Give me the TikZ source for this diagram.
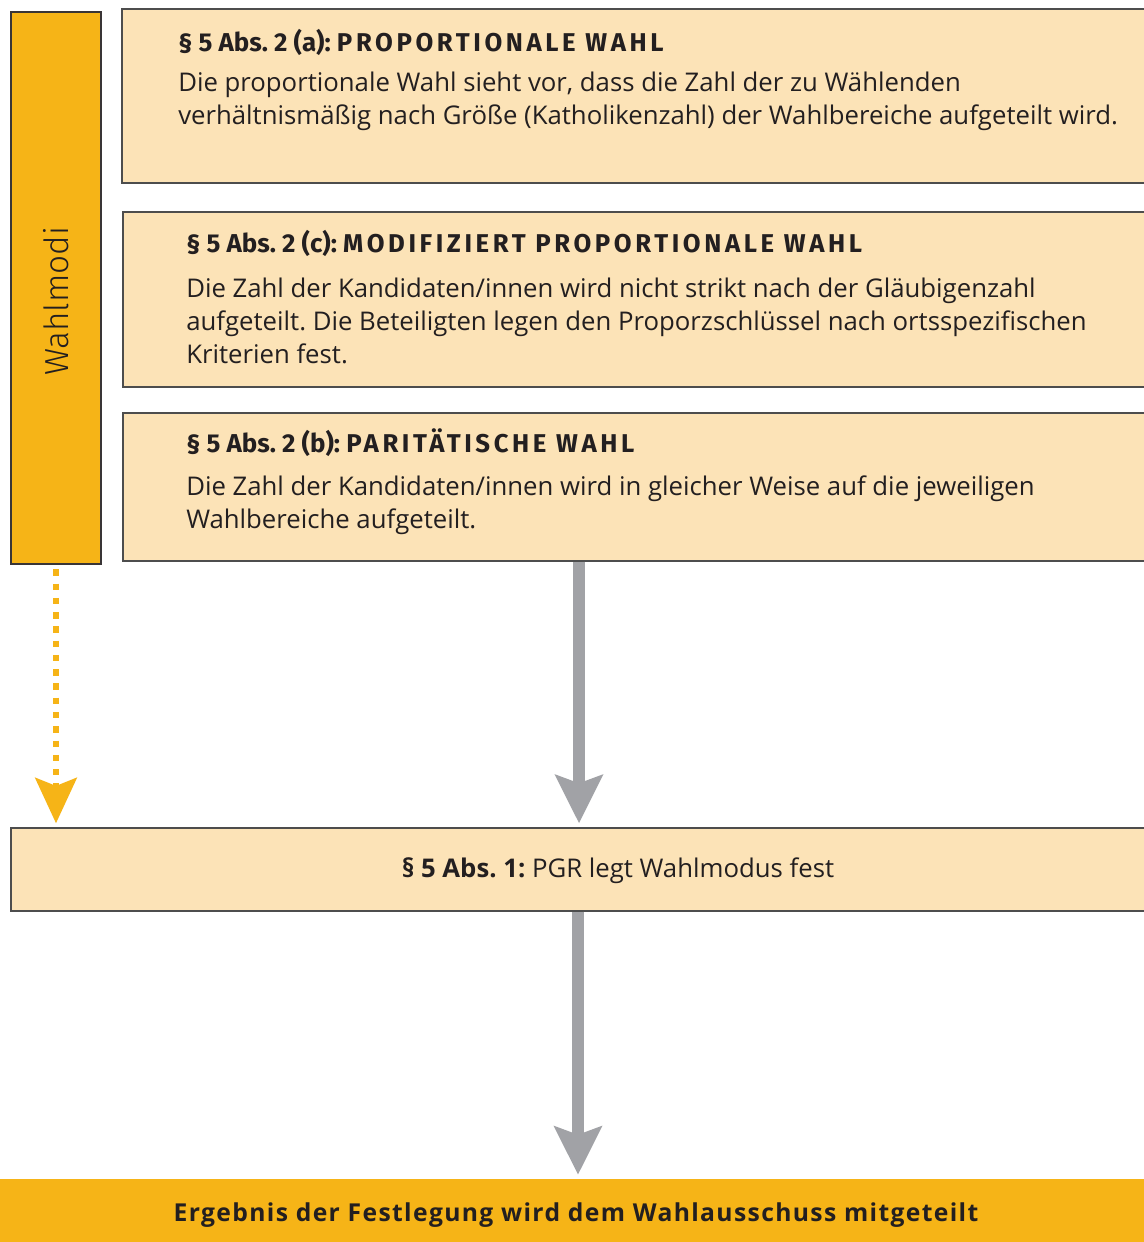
\documentclass[tikz,border=0pt]{standalone}
\usepackage{fontspec}
\setmainfont{Open Sans}
\newfontfamily\headfont{Fira Sans}
% heavy tracked face for the names of the election modes
\IfFontExistsTF{Fira Sans Black}
  {\newfontfamily\capsface{Fira Sans Black}[LetterSpace=14]\newcommand{\capsweight}{}}
  {\newfontfamily\capsface{Fira Sans}[LetterSpace=16, BoldFeatures={FakeBold=1.6}]\newcommand{\capsweight}{\bfseries}}
% light face for the side label
\IfFontExistsTF{Fira Sans Light}
  {\newfontfamily\sideface{Fira Sans Light}}
  {\newfontfamily\sideface{Fira Sans}}
% tracked face for the result bar
\IfFontExistsTF{Open Sans SemiBold}
  {\newfontfamily\spacedfont{Open Sans SemiBold}[LetterSpace=6]\newcommand{\spacedweight}{}}
  {\newfontfamily\spacedfont{Open Sans}[LetterSpace=5.5]\newcommand{\spacedweight}{\bfseries}}
\usetikzlibrary{arrows.meta,fit}

\definecolor{paleorange}{HTML}{FCE3B7}
\definecolor{amber}{HTML}{F6B417}
\definecolor{arrowgray}{HTML}{A1A2A6}
\definecolor{frame}{HTML}{4D4D4D}
\definecolor{ink}{HTML}{231F20}

\tikzset{
  panel/.style={draw=frame, line width=1.1pt, fill=paleorange, inner sep=0pt},
  sidebar/.style={draw=ink!90, line width=2pt, fill=amber, inner sep=0pt},
  resultbar/.style={fill=amber, inner sep=0pt},
  txt/.style={anchor=base west, inner sep=0pt, text=ink, font=\fontsize{19.3}{22}\selectfont\frenchspacing},
  head/.style={anchor=base west, inner sep=0pt, text=ink, font=\fontsize{19.4}{22}\headfont\bfseries\frenchspacing},
  grayarrow/.style={draw=arrowgray, line width=9pt,
    -{Stealth[length=36pt, width=35pt, inset=6pt]}, shorten >=3pt},
  dotarrow/.style={draw=amber, line width=4.8pt, dash pattern=on 4.8pt off 5.9pt,
    -{Stealth[length=34pt, width=31pt, inset=6pt]}, shorten >=3pt}
}
\newcommand{\modename}[1]{{\fontsize{19.3}{22}\capsface\capsweight #1}}

\begin{document}
\begin{tikzpicture}[x=0.75pt, y=-0.75pt]
\clip (0,0) rectangle (1144,1242);
\fill[white] (0,0) rectangle (1144,1242);

% side label
\node[sidebar, fit={(11,12)(101,564)}] (wm) {};
\node[rotate=90, text=ink, inner sep=0pt, font=\fontsize{25}{28}\sideface] (wmlabel) at (56,301) {Wahlmodi};

% election modes
\node[panel, fit={(122,9)(1160,183)}] (pa) {};
\node[head] (pah) at (178,51) {§ 5 Abs. 2 (a): \modename{PROPORTIONALE WAHL}};
\node[txt] (pa1) at (178,91) {Die proportionale Wahl sieht vor, dass die Zahl der zu Wählenden};
\node[txt] (pa2) at (178,124) {verhältnismäßig nach Größe (Katholikenzahl) der Wahlbereiche aufgeteilt wird.};

\node[panel, fit={(123,212)(1160,387)}] (pc) {};
\node[head] (pch) at (186,252) {§ 5 Abs. 2 (c): \modename{MODIFIZIERT PROPORTIONALE WAHL}};
\node[txt] (pc1) at (186,297) {Die Zahl der Kandidaten/innen wird nicht strikt nach der Gläubigenzahl};
\node[txt] (pc2) at (186,330) {aufgeteilt. Die Beteiligten legen den Proporzschlüssel nach ortsspezifischen};
\node[txt] (pc3) at (186,363) {Kriterien fest.};

\node[panel, fit={(123,413)(1160,561)}] (pb) {};
\node[head] (pbh) at (186,452) {§ 5 Abs. 2 (b): \modename{PARITÄTISCHE WAHL}};
\node[txt] (pb1) at (186,495) {Die Zahl der Kandidaten/innen wird in gleicher Weise auf die jeweiligen};
\node[txt] (pb2) at (186,528) {Wahlbereiche aufgeteilt.};

% decision by the parish council
\node[panel, fit={(11,828)(1160,911)}] (pgr) {};
\node[txt, anchor=base] (pgrt) at (618,877) {\textbf{§ 5 Abs. 1:} PGR legt Wahlmodus fest};

% result
\node[resultbar, fit={(-5,1179)(1150,1250)}] (res) {};
\node[anchor=base, inner sep=0pt, text=ink, font=\fontsize{18.5}{22}\spacedfont\spacedweight] (rest) at (576,1221) {Ergebnis der Festlegung wird dem Wahlausschuss mitgeteilt};

% connectors
\coordinate (ax) at (579,0);
\coordinate (bx) at (578,0);
\draw[grayarrow] (pb.south -| ax) -- (pgr.north -| ax);
\draw[grayarrow] (pgr.south -| bx) -- (res.north -| bx);
\draw[dotarrow] ([yshift=-3pt]wm.south) -- (pgr.north -| wm.south);
\end{tikzpicture}
\end{document}
